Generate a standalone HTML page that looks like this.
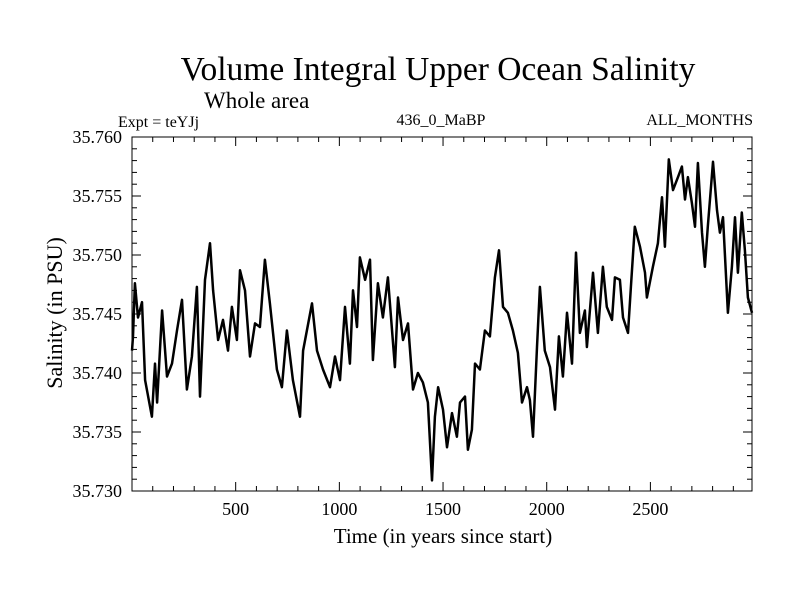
<!DOCTYPE html>
<html><head><meta charset="utf-8"><style>
body{margin:0;background:#fff}
svg text{font-family:"Liberation Serif",serif;fill:#000}
</style></head><body>
<svg id="chart" width="800" height="600" xmlns="http://www.w3.org/2000/svg">
<text x="438" y="80" font-size="33.5" text-anchor="middle">Volume Integral Upper Ocean Salinity</text>
<text x="204" y="108" font-size="23">Whole area</text>
<text x="118" y="127" font-size="16">Expt = teYJj</text>
<text x="441" y="125" font-size="16" text-anchor="middle">436_0_MaBP</text>
<text x="753" y="125" font-size="16" text-anchor="end">ALL_MONTHS</text>
<text x="443" y="543" font-size="21" text-anchor="middle">Time (in years since start)</text>
<text transform="translate(62,313) rotate(-90)" font-size="22" text-anchor="middle">Salinity (in PSU)</text>
<g id="axes"></g>
<path id="series" fill="none" stroke="#000" stroke-width="2.5" stroke-linejoin="round"></path>
<rect x="132" y="137" width="620" height="354" fill="none" stroke="#000" stroke-width="1"></rect>
</svg>
<script>
const years=[0,5,14,29,48,63,96,111,121,145,169,193,217,241,265,289,313,328,352,376,391,415,439,463,482,506,521,545,569,593,617,641,665,699,723,747,776,810,825,868,892,921,955,979,1003,1027,1051,1066,1085,1099,1124,1148,1162,1186,1210,1234,1268,1283,1307,1331,1355,1379,1403,1427,1447,1461,1476,1500,1519,1543,1567,1582,1606,1620,1639,1654,1678,1702,1726,1750,1770,1789,1813,1837,1861,1881,1905,1919,1934,1953,1967,1991,2016,2040,2059,2078,2098,2122,2141,2160,2184,2194,2223,2247,2271,2290,2315,2329,2353,2368,2392,2406,2425,2450,2474,2483,2512,2536,2556,2570,2589,2609,2633,2652,2667,2681,2700,2715,2729,2749,2763,2777,2802,2821,2835,2850,2874,2893,2908,2922,2941,2956,2970,2990];
const salinity=[35.7419,35.7431,35.7476,35.7447,35.7460,35.7394,35.7363,35.7408,35.7375,35.7453,35.7397,35.7408,35.7436,35.7462,35.7386,35.7414,35.7473,35.7380,35.7479,35.7510,35.7470,35.7428,35.7445,35.7419,35.7456,35.7428,35.7487,35.7470,35.7414,35.7442,35.7439,35.7496,35.7459,35.7403,35.7388,35.7436,35.7394,35.7363,35.7419,35.7459,35.7419,35.7403,35.7388,35.7414,35.7394,35.7456,35.7408,35.7470,35.7439,35.7498,35.7479,35.7496,35.7411,35.7476,35.7447,35.7481,35.7405,35.7464,35.7428,35.7442,35.7386,35.7400,35.7392,35.7375,35.7309,35.7363,35.7388,35.7369,35.7337,35.7366,35.7346,35.7375,35.7380,35.7335,35.7352,35.7408,35.7403,35.7436,35.7431,35.7481,35.7504,35.7456,35.7451,35.7436,35.7417,35.7375,35.7388,35.7377,35.7346,35.7422,35.7473,35.7419,35.7405,35.7369,35.7431,35.7397,35.7451,35.7408,35.7502,35.7434,35.7453,35.7422,35.7485,35.7434,35.7490,35.7456,35.7445,35.7481,35.7479,35.7447,35.7434,35.7473,35.7524,35.7507,35.7485,35.7464,35.7490,35.7510,35.7549,35.7507,35.7581,35.7555,35.7566,35.7575,35.7547,35.7566,35.7544,35.7524,35.7578,35.7519,35.7490,35.7524,35.7579,35.7538,35.7519,35.7532,35.7451,35.7490,35.7532,35.7485,35.7536,35.7504,35.7464,35.7451];
const xTickLabels=[500,1000,1500,2000,2500];
const yTickLabels=["35.730","35.735","35.740","35.745","35.750","35.755","35.760"];
const X0=132,X1=752,Y0=491,Y1=137,XMAX=2990,YMIN=35.730,YMAX=35.760;
const sx=v=>X0+(v/XMAX)*(X1-X0);
const sy=v=>Y0-(v-YMIN)/(YMAX-YMIN)*(Y0-Y1);
const NS="http://www.w3.org/2000/svg";
const axes=document.getElementById('axes');
function line(x1,y1,x2,y2,name){const l=document.createElementNS(NS,'line');
l.setAttribute('x1',x1);l.setAttribute('y1',y1);l.setAttribute('x2',x2);l.setAttribute('y2',y2);l.setAttribute('stroke','#000');l.setAttribute('stroke-width','1');


axes.appendChild(l);}
function txt(x,y,s,anchor,name){const t=document.createElementNS(NS,'text');
t.setAttribute('x',x);t.setAttribute('y',y);t.setAttribute('font-size','18');t.setAttribute('text-anchor',anchor);t.textContent=s;


axes.appendChild(t);}
for(let v=100;v<XMAX;v+=100){const x=sx(v);const major=v%500===0;const len=major?9:5;
line(x,Y0,x,Y0-len,'x-tick');line(x,Y1,x,Y1+len,'x-tick-top');}
xTickLabels.forEach(v=>txt(sx(v),515,String(v),'middle','x-tick-label'));
for(let i=1;i<30;i++){const v=YMIN+i*0.001;const y=sy(v);const major=i%5===0;const len=major?9:5;
line(X0,y,X0+len,y,'y-tick');line(X1,y,X1-len,y,'y-tick-right');}
yTickLabels.forEach(s=>txt(122,sy(parseFloat(s))+6,s,'end','y-tick-label'));
let d='';years.forEach((yr,i)=>{d+=(i?'L':'M')+sx(yr).toFixed(1)+','+sy(salinity[i]).toFixed(1);});
document.getElementById('series').setAttribute('d',d);
</script>
</body></html>
